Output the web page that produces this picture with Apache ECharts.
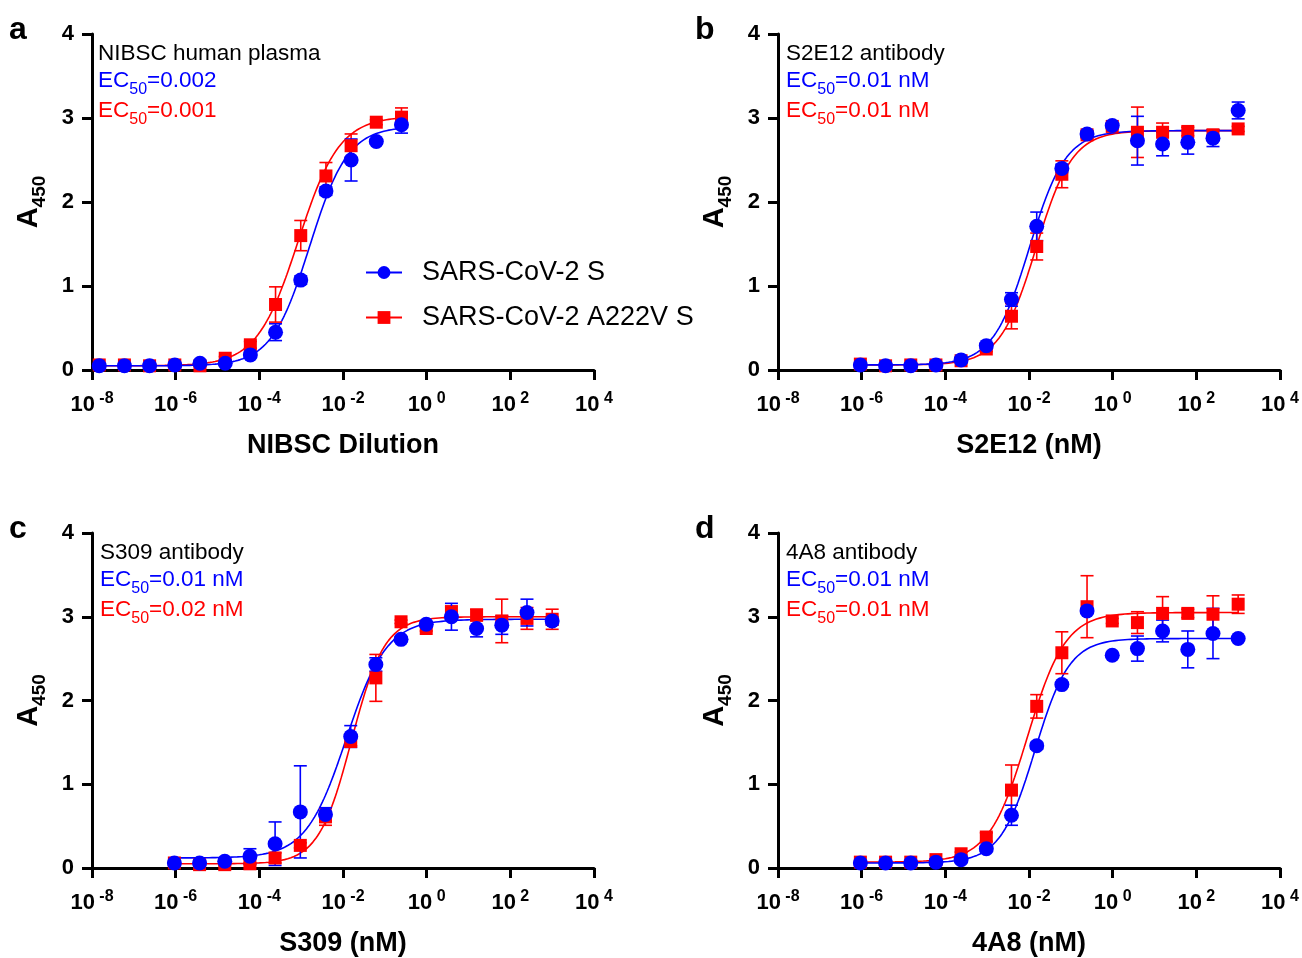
<!DOCTYPE html>
<html>
<head>
<meta charset="utf-8">
<script src="https://cdn.jsdelivr.net/npm/echarts@6/dist/echarts.min.js"></script>
<style>
  html, body { margin: 0; padding: 0; background: #fff; }
  #chart { width: 1302px; height: 958px; }
</style>
</head>
<body>
<div id="chart"></div>
<script>
// ---- x values: 4-fold dilution series ----
const nibscDilution = [1.49e-8, 5.96e-8, 2.38e-7, 9.54e-7, 3.81e-6, 1.53e-5, 6.10e-5,
  2.44e-4, 9.77e-4, 3.91e-3, 1.5625e-2, 6.25e-2, 0.25];
const antibodyNM = [9.31e-7, 3.73e-6, 1.49e-5, 5.96e-5, 2.38e-4, 9.54e-4, 3.81e-3, 1.53e-2,
  6.10e-2, 0.244, 0.977, 3.91, 15.6, 62.5, 250, 1000];

// ---- A450 means and SD, panel a (NIBSC plasma) ----
const aWtMean  = [0.05, 0.05, 0.05, 0.06, 0.08, 0.08, 0.18, 0.45, 1.07, 2.13, 2.50, 2.72, 2.92];
const aWtSD    = [0.01, 0.01, 0.01, 0.01, 0.02, 0.02, 0.03, 0.10, 0.05, 0.05, 0.25, 0.03, 0.10];
const aMutMean = [0.06, 0.06, 0.05, 0.06, 0.05, 0.14, 0.30, 0.78, 1.60, 2.31, 2.67, 2.95, 3.01];
const aMutSD   = [0.01, 0.01, 0.01, 0.01, 0.01, 0.02, 0.04, 0.21, 0.18, 0.16, 0.14, 0.03, 0.11];

// ---- panel b (S2E12) ----
const bWtMean  = [0.06, 0.05, 0.05, 0.06, 0.12, 0.29, 0.84, 1.71, 2.40, 2.81, 2.91, 2.73, 2.69, 2.71, 2.76, 3.09];
const bWtSD    = [0.01, 0.01, 0.01, 0.01, 0.02, 0.03, 0.08, 0.17, 0.05, 0.04, 0.03, 0.29, 0.14, 0.14, 0.10, 0.10];
const bMutMean = [0.07, 0.05, 0.06, 0.06, 0.11, 0.25, 0.64, 1.47, 2.33, 2.80, 2.90, 2.83, 2.83, 2.84, 2.80, 2.87];
const bMutSD   = [0.01, 0.01, 0.01, 0.01, 0.02, 0.03, 0.15, 0.16, 0.16, 0.04, 0.03, 0.30, 0.11, 0.05, 0.06, 0.03];

// ---- panel c (S309) ----
const cWtMean  = [0.06, 0.06, 0.08, 0.14, 0.29, 0.67, 0.64, 1.57, 2.43, 2.73, 2.91, 3.00, 2.86, 2.90, 3.05, 2.95];
const cWtSD    = [0.01, 0.01, 0.02, 0.09, 0.26, 0.55, 0.08, 0.13, 0.08, 0.03, 0.03, 0.16, 0.10, 0.11, 0.16, 0.05];
const cMutMean = [0.06, 0.04, 0.04, 0.05, 0.12, 0.27, 0.61, 1.51, 2.27, 2.94, 2.86, 3.05, 3.02, 2.95, 2.98, 2.97];
const cMutSD   = [0.01, 0.01, 0.01, 0.01, 0.06, 0.03, 0.10, 0.05, 0.28, 0.02, 0.03, 0.08, 0.07, 0.26, 0.13, 0.12];

// ---- panel d (4A8) ----
const dWtMean  = [0.06, 0.06, 0.06, 0.07, 0.10, 0.23, 0.63, 1.46, 2.19, 3.07, 2.54, 2.62, 2.83, 2.61, 2.80, 2.74];
const dWtSD    = [0.01, 0.01, 0.01, 0.01, 0.02, 0.03, 0.12, 0.04, 0.03, 0.02, 0.02, 0.15, 0.13, 0.22, 0.30, 0.02];
const dMutMean = [0.07, 0.07, 0.07, 0.10, 0.17, 0.37, 0.93, 1.93, 2.57, 3.12, 2.95, 2.93, 3.04, 3.04, 3.03, 3.15];
const dMutSD   = [0.01, 0.01, 0.01, 0.01, 0.02, 0.05, 0.30, 0.14, 0.25, 0.37, 0.03, 0.13, 0.20, 0.05, 0.22, 0.11];

// ---- four-parameter logistic fits: [bottom, top, EC50, hill] ----
const aWtFit  = [0.05, 2.90, 0.0016, 0.95];
const aMutFit = [0.05, 3.02, 0.00085, 0.88];
const bWtFit  = [0.06, 2.85, 0.0102, 1.00];
const bMutFit = [0.06, 2.85, 0.0148, 1.00];
const cWtFit  = [0.12, 2.97, 0.012, 0.90];
const cMutFit = [0.05, 3.00, 0.016, 1.10];
const dWtFit  = [0.06, 2.74, 0.0138, 1.05];
const dMutFit = [0.07, 3.05, 0.0091, 0.95];

// ---- axis ticks and texts ----
const xTickExponents = [-8, -6, -4, -2, 0, 2, 4];
const yTicks = [0, 1, 2, 3, 4];
const panelLetters = ['a', 'b', 'c', 'd'];
const panelTitles = ['NIBSC human plasma', 'S2E12 antibody', 'S309 antibody', '4A8 antibody'];
const xAxisTitles = ['NIBSC Dilution', 'S2E12 (nM)', 'S309 (nM)', '4A8 (nM)'];
const wtEC50Text  = ['0.002', '0.01 nM', '0.01 nM', '0.01 nM'];
const mutEC50Text = ['0.001', '0.01 nM', '0.02 nM', '0.01 nM'];
const legendNames = ['SARS-CoV-2 S', 'SARS-CoV-2 A222V S'];

const BLUE = '#0000ff';
const RED = '#ff0000';
const FONT = 'Liberation Sans, Arial, sans-serif';

const panels = [
  { x: nibscDilution, wt: aWtMean, wtSD: aWtSD, mut: aMutMean, mutSD: aMutSD, wtFit: aWtFit, mutFit: aMutFit },
  { x: antibodyNM, wt: bWtMean, wtSD: bWtSD, mut: bMutMean, mutSD: bMutSD, wtFit: bWtFit, mutFit: bMutFit },
  { x: antibodyNM, wt: cWtMean, wtSD: cWtSD, mut: cMutMean, mutSD: cMutSD, wtFit: cWtFit, mutFit: cMutFit },
  { x: antibodyNM, wt: dWtMean, wtSD: dWtSD, mut: dMutMean, mutSD: dMutSD, wtFit: dWtFit, mutFit: dMutFit }
];

// grid placement of the 2x2 layout
const gridLeft = [92, 778, 92, 778];
const gridTop = [34, 34, 533, 533];
const GRID_W = 502, GRID_H = 336;

const lg = v => Math.log10(v);

// fitted logistic curve sampled across the measured range (log10 x)
function fitCurve(fit, xs) {
  const [bottom, top, ec50, hill] = fit;
  const x0 = lg(xs[0]), x1 = lg(xs[xs.length - 1]);
  const out = [];
  const n = 240;
  for (let i = 0; i <= n; i++) {
    const lx = x0 + (x1 - x0) * i / n;
    out.push([lx, bottom + (top - bottom) / (1 + Math.pow(10, (lg(ec50) - lx) * hill))]);
  }
  return out;
}

function errorBarSeries(name, idx, xs, mean, sd, color) {
  return {
    name: name, type: 'custom', xAxisIndex: idx, yAxisIndex: idx, z: 3, silent: true,
    data: xs.map((x, i) => [lg(x), Math.max(0, mean[i] - sd[i]), mean[i] + sd[i]]),
    encode: { x: 0, y: [1, 2] },
    renderItem: function (params, api) {
      const lx = api.value(0);
      const lo = api.coord([lx, api.value(1)]);
      const hi = api.coord([lx, api.value(2)]);
      const w = 6.5;
      const st = { stroke: color, lineWidth: 1.6 };
      return {
        type: 'group',
        children: [
          { type: 'line', shape: { x1: lo[0], y1: lo[1], x2: hi[0], y2: hi[1] }, style: st },
          { type: 'line', shape: { x1: hi[0] - w, y1: hi[1], x2: hi[0] + w, y2: hi[1] }, style: st },
          { type: 'line', shape: { x1: lo[0] - w, y1: lo[1], x2: lo[0] + w, y2: lo[1] }, style: st }
        ]
      };
    }
  };
}

const grids = [], xAxes = [], yAxes = [], series = [], graphics = [];

panels.forEach((p, i) => {
  grids.push({ left: gridLeft[i], top: gridTop[i], width: GRID_W, height: GRID_H });
  const axisLine = { show: true, onZero: false, lineStyle: { color: '#000', width: 3 } };
  const axisTick = { show: true, inside: false, length: 10, lineStyle: { color: '#000', width: 3 } };
  xAxes.push({
    type: 'value', gridIndex: i, min: -8, max: 4, interval: 2,
    axisLine: axisLine, axisTick: axisTick, splitLine: { show: false },
    axisLabel: {
      margin: 22, color: '#000',
      formatter: v => xTickExponents.indexOf(v) >= 0 ? '{b|10}{s| ' + v + '}' : '',
      rich: {
        b: { fontFamily: FONT, fontWeight: 'bold', fontSize: 22, color: '#000', verticalAlign: 'bottom', lineHeight: 24 },
        s: { fontFamily: FONT, fontWeight: 'bold', fontSize: 16, color: '#000', verticalAlign: 'bottom', lineHeight: 24, padding: [0, 0, 9, 0] }
      }
    },
    name: xAxisTitles[i], nameLocation: 'middle', nameGap: 62,
    nameTextStyle: { fontFamily: FONT, fontWeight: 'bold', fontSize: 27, color: '#000' }
  });
  yAxes.push({
    type: 'value', gridIndex: i, min: 0, max: 4, interval: 1,
    axisLine: axisLine, axisTick: axisTick, splitLine: { show: false },
    axisLabel: {
      margin: 18, color: '#000', fontFamily: FONT, fontWeight: 'bold', fontSize: 22,
      formatter: v => yTicks.indexOf(v) >= 0 ? String(v) : ''
    },
    name: '{a|A}{s|450}', nameLocation: 'middle', nameGap: 49, nameRotate: 90,
    nameTextStyle: {
      rich: {
        a: { fontFamily: FONT, fontWeight: 'bold', fontSize: 29, color: '#000', verticalAlign: 'bottom', lineHeight: 32 },
        s: { fontFamily: FONT, fontWeight: 'bold', fontSize: 19, color: '#000', verticalAlign: 'bottom', lineHeight: 32, padding: [0, 0, -6, 0] }
      }
    }
  });

  const wtName = i === 0 ? legendNames[0] : 'wt-fit-' + i;
  const mutName = i === 0 ? legendNames[1] : 'mut-fit-' + i;
  // fitted curves (panel a curves also carry the legend symbols)
  series.push({
    name: mutName, type: 'line', xAxisIndex: i, yAxisIndex: i, z: 2,
    data: fitCurve(p.mutFit, p.x), showSymbol: false, symbol: 'rect', symbolSize: 13,
    lineStyle: { color: RED, width: 1.6 }, itemStyle: { color: RED }, silent: true
  });
  series.push({
    name: wtName, type: 'line', xAxisIndex: i, yAxisIndex: i, z: 2,
    data: fitCurve(p.wtFit, p.x), showSymbol: false, symbol: 'circle', symbolSize: 15,
    lineStyle: { color: BLUE, width: 1.6 }, itemStyle: { color: BLUE }, silent: true
  });
  series.push(errorBarSeries('mut-err-' + i, i, p.x, p.mut, p.mutSD, RED));
  series.push({
    name: 'mut-pts-' + i, type: 'scatter', xAxisIndex: i, yAxisIndex: i, z: 4,
    symbol: 'rect', symbolSize: 13, itemStyle: { color: RED, opacity: 1 },
    data: p.x.map((x, k) => [lg(x), p.mut[k]]), silent: true
  });
  series.push(errorBarSeries('wt-err-' + i, i, p.x, p.wt, p.wtSD, BLUE));
  series.push({
    name: 'wt-pts-' + i, type: 'scatter', xAxisIndex: i, yAxisIndex: i, z: 5,
    symbol: 'circle', symbolSize: 15, itemStyle: { color: BLUE, opacity: 1 },
    data: p.x.map((x, k) => [lg(x), p.wt[k]]), silent: true
  });

  // panel letter and in-plot annotations
  const tx = gridLeft[i] + (i === 0 ? 6 : 8);
  graphics.push({
    type: 'text', left: gridLeft[i] - 83, top: gridTop[i] - 20,
    style: { text: panelLetters[i], font: 'bold 32px ' + FONT, fill: '#000' }
  });
  graphics.push({
    type: 'text', left: tx, top: gridTop[i] + 8,
    style: { text: panelTitles[i], font: '22.5px ' + FONT, fill: '#000' }
  });
  [[wtEC50Text[i], BLUE, 35], [mutEC50Text[i], RED, 65]].forEach(([val, col, dy]) => {
    graphics.push({
      type: 'text', left: tx, top: gridTop[i] + dy,
      style: {
        text: '{m|EC}{s|50}{m|=' + val + '}',
        rich: {
          m: { font: '22.5px ' + FONT, fill: col, verticalAlign: 'bottom', lineHeight: 27 },
          s: { font: '16px ' + FONT, fill: col, verticalAlign: 'bottom', lineHeight: 27, padding: [0, 0, -6, 0] }
        }
      }
    });
  });
});

const chart = echarts.init(document.getElementById('chart'), null, { renderer: 'canvas' });
chart.setOption({
  backgroundColor: '#fff',
  animation: false,
  grid: grids,
  xAxis: xAxes,
  yAxis: yAxes,
  legend: {
    data: legendNames, orient: 'vertical', left: 365, top: 259, itemWidth: 36, itemHeight: 16,
    itemGap: 18, selectedMode: false, padding: 0,
    textStyle: { fontFamily: FONT, fontSize: 27, color: '#000', padding: [0, 0, 0, 15] }
  },
  series: series,
  graphic: graphics
});
</script>
</body>
</html>
